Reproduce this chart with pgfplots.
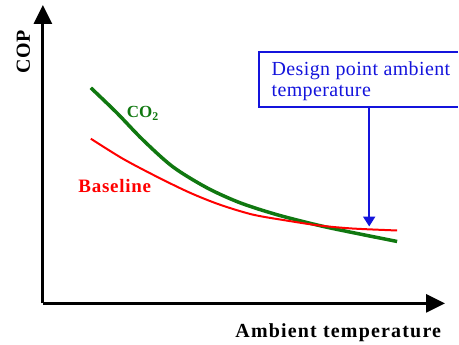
\documentclass[border=0pt]{standalone}
\usepackage{fontspec}
\setmainfont{Liberation Serif}
\usepackage{pgfplots}
\pgfplotsset{compat=1.18}
\usetikzlibrary{arrows.meta}
\definecolor{cgreen}{RGB}{16,120,16}
\definecolor{cred}{RGB}{255,0,0}
\definecolor{cblue}{RGB}{20,20,220}
\begin{document}
\begin{tikzpicture}
\begin{axis}[
  scale only axis, width=403pt, height=299pt,
  xmin=43, xmax=446, ymin=39, ymax=338,
  axis lines=left,
  axis line style={line width=3pt, -{Triangle[width=18pt,length=19pt]}},
  xtick=\empty, ytick=\empty,
  clip=false,
]
\addplot[cgreen, line width=3.5pt, smooth] coordinates {
(91,255) (117,230) (143,203) (173,176) (207,155) (240,140) (277,128) (320,117) (353,110) (398,101)};
\addplot[cred, line width=2pt, smooth] coordinates {
(91,204) (123,184) (157,166) (190,150) (220,138) (253,128) (287,122) (320,117) (353,114) (398,112)};
\node[rotate=90, font=\fontsize{20}{22}\selectfont\bfseries\addfontfeature{LetterSpace=4}, anchor=base] at (axis cs:30,291) {COP};
\node[font=\fontsize{20}{22}\selectfont\bfseries\addfontfeature{LetterSpace=6}, anchor=base] at (axis cs:339,5) {Ambient temperature};
\node[font=\fontsize{19}{20}\selectfont\bfseries\addfontfeature{LetterSpace=4}, text=cred, anchor=base] at (axis cs:115,150) {Baseline};
\node[font=\fontsize{17}{19}\selectfont\bfseries, text=cgreen, anchor=base west, inner sep=0pt] at (axis cs:127,225) {CO\textsubscript{2}};
\draw[cblue, line width=2pt] (axis cs:459,291) -- (axis cs:260,291) -- (axis cs:260,236) -- (axis cs:459,236);
\node[font=\fontsize{20}{21}\selectfont\addfontfeature{LetterSpace=2}, text=cblue, anchor=base west, inner sep=0pt] at (axis cs:272,267) {Design point ambient};
\node[font=\fontsize{20}{21}\selectfont\addfontfeature{LetterSpace=2}, text=cblue, anchor=base west, inner sep=0pt] at (axis cs:272,246) {temperature};
\draw[cblue, line width=2pt, -{Triangle[width=12pt,length=10pt]}] (axis cs:370,236) -- (axis cs:370,116);
\path (axis cs:0,0) (axis cs:459,343);
\end{axis}
\end{tikzpicture}
\end{document}
